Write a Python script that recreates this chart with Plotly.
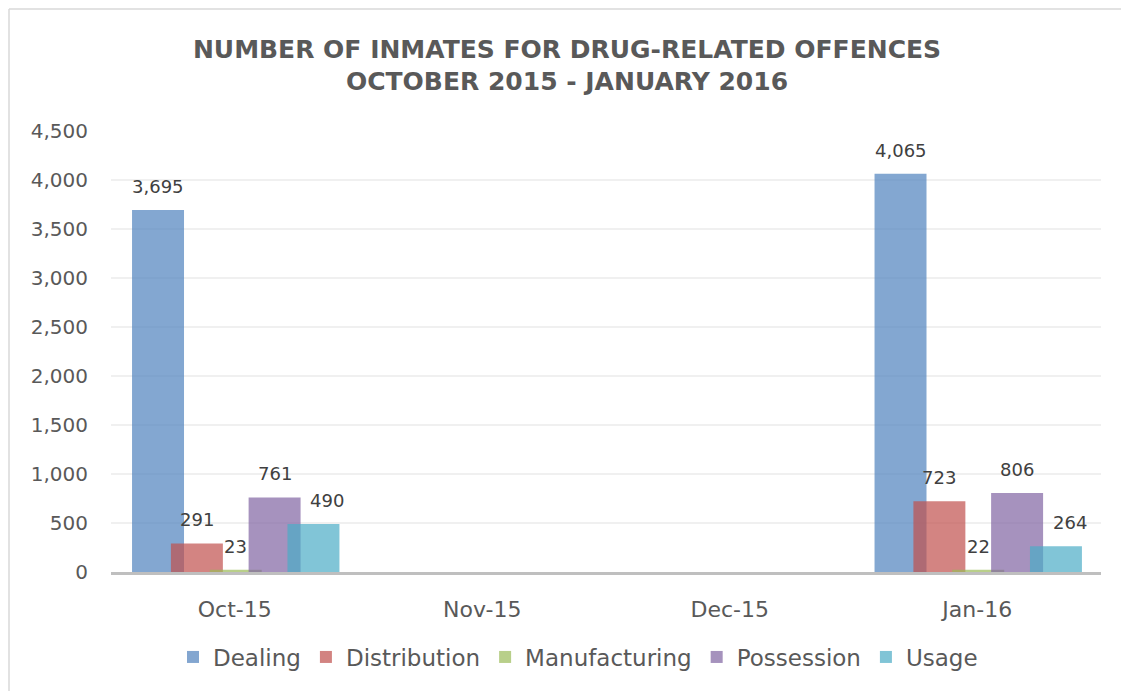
import plotly.graph_objects as go

# Monthly inmate counts by drug-offence type
months = ["Oct-15", "Nov-15", "Dec-15", "Jan-16"]
dealing = [3695, None, None, 4065]
distribution = [291, None, None, 723]
manufacturing = [23, None, None, 22]
possession = [761, None, None, 806]
usage = [490, None, None, 264]

series_names = ["Dealing", "Distribution", "Manufacturing", "Possession", "Usage"]
series_values = [dealing, distribution, manufacturing, possession, usage]
colors = ["#4F81BD", "#C0504D", "#9BBB59", "#8064A2", "#4BACC6"]

W, H = 1121, 691
ML, MR, MT, MB = 111, 20, 131, 119
PW, PH = W - ML - MR, H - MT - MB

FONT = "DejaVu Sans"
TEXT_COLOR = "#595959"
LABEL_COLOR = "#404040"

bar_w = 0.21          # bar width in category units
first_off = -0.415    # left edge of first series relative to category centre
step = 0.157          # spacing between series (bars overlap)
label_xshift = [0, 0, 0, 0, 14]

fig = go.Figure()
annotations = []
for k, (name, vals, col) in enumerate(zip(series_names, series_values, colors)):
    off = first_off + step * k
    fig.add_trace(go.Bar(
        name=name, x=months, y=vals,
        width=bar_w, offset=off,
        marker=dict(color=col, line=dict(width=0)),
        opacity=0.7,
    ))
    for i, v in enumerate(vals):
        if v is None:
            continue
        annotations.append(dict(
            x=i + off + bar_w / 2, y=v, xref="x", yref="y",
            text=f"{v:,}", showarrow=False,
            xanchor="center", yanchor="bottom", yshift=11, xshift=label_xshift[k],
            font=dict(family=FONT, size=18, color=LABEL_COLOR),
        ))


def px_x(px):
    return (px - ML) / PW


def px_y(py):
    return (H - MB - py) / PH


# chart-area border (top and left edges)
shapes = [
    dict(type="line", xref="paper", yref="paper",
         x0=px_x(9), y0=px_y(9), x1=px_x(W + 5), y1=px_y(9),
         line=dict(color="#D9D9D9", width=1.5)),
    dict(type="line", xref="paper", yref="paper",
         x0=px_x(9), y0=px_y(9), x1=px_x(9), y1=px_y(H + 5),
         line=dict(color="#D9D9D9", width=1.5)),
]

fig.update_layout(
    width=W, height=H,
    margin=dict(l=ML, r=MR, t=MT, b=MB),
    paper_bgcolor="white", plot_bgcolor="white",
    barmode="overlay",
    font=dict(family=FONT, color=TEXT_COLOR),
    title=dict(
        text="NUMBER OF INMATES FOR DRUG-RELATED OFFENCES<br>OCTOBER 2015 - JANUARY 2016",
        x=567 / W, xanchor="center", y=1 - 57.5 / H, yanchor="middle",
        yref="container", xref="container",
        font=dict(family=FONT, size=25, color=TEXT_COLOR, weight="bold"),
    ),
    xaxis=dict(
        type="category", range=[-0.5, 3.5],
        showline=True, linecolor="#BFBFBF", linewidth=3,
        showgrid=False, ticks="", ticklabelstandoff=16,
        tickfont=dict(family=FONT, size=22, color=TEXT_COLOR),
    ),
    yaxis=dict(
        range=[0, 4500], dtick=500, tickformat=",",
        showgrid=True, gridcolor="#F0F0F0", gridwidth=1.5,
        zeroline=False, showline=False, ticks="", ticklabelstandoff=22,
        tickfont=dict(family=FONT, size=20, color=TEXT_COLOR),
    ),
    legend=dict(
        orientation="h", x=px_x(578), xanchor="center",
        y=px_y(657), yanchor="middle",
        font=dict(family=FONT, size=23, color=TEXT_COLOR),
        bgcolor="rgba(0,0,0,0)",
    ),
    annotations=annotations,
    shapes=shapes,
)

fig.write_html("out.html")
